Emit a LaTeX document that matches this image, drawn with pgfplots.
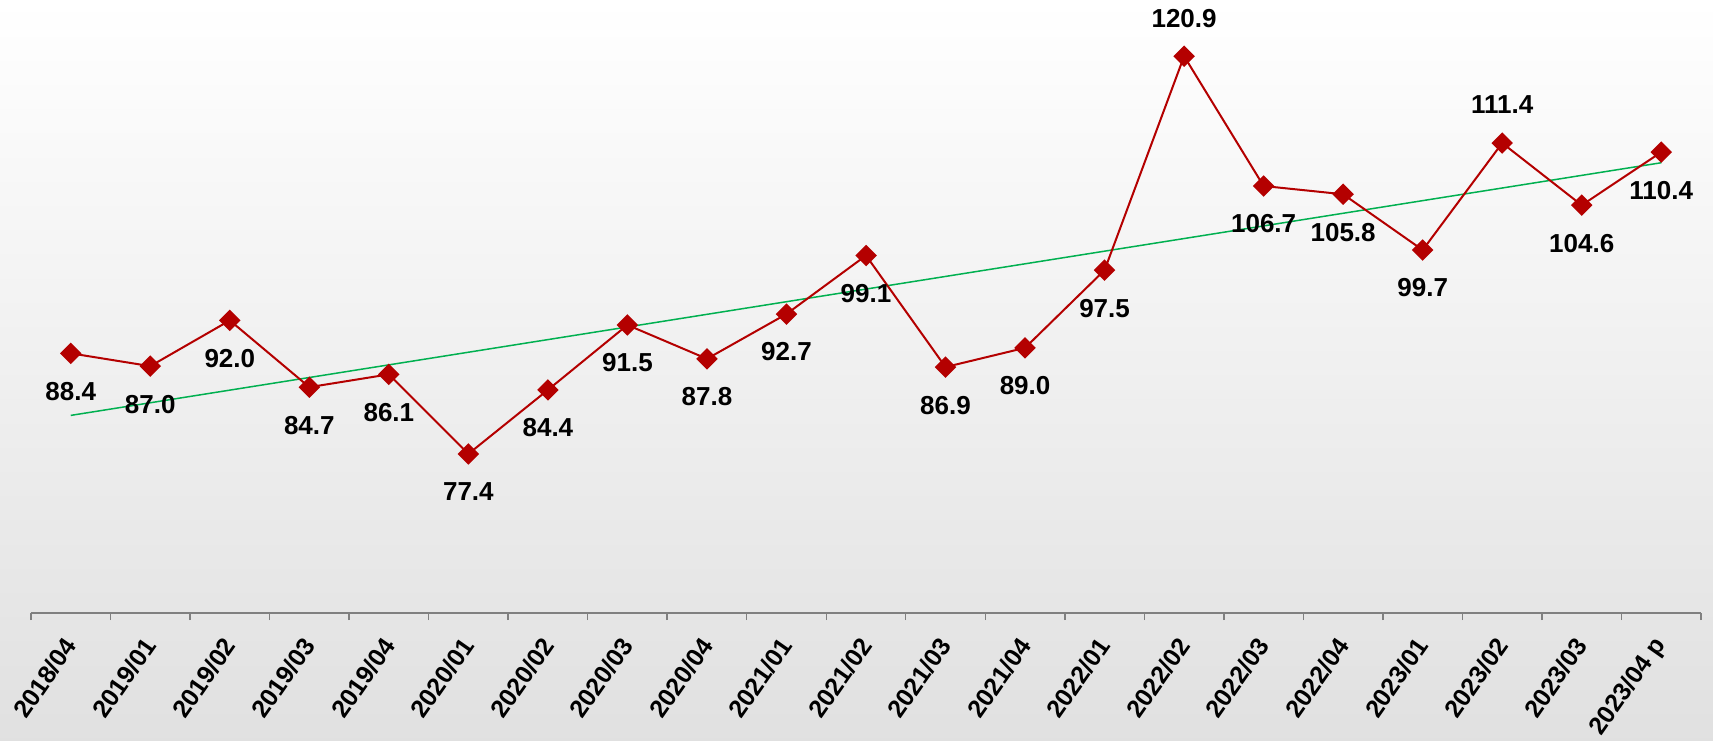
\documentclass[border=0pt]{standalone}
\usepackage{fontspec}
\setmainfont{Liberation Sans}
\usepackage{pgfplots}
\usepackage{pgfplotstable}
\pgfplotsset{compat=1.18}

\definecolor{linered}{RGB}{180,0,0}
\definecolor{trendgreen}{RGB}{0,176,80}
\definecolor{axisgray}{RGB}{128,128,128}

% x = category index, pos = label shift (pt)
\pgfplotstableread{
x y pos
0 88.4 -19
1 87.0 -19
2 92.0 -19
3 84.7 -19
4 86.1 -19
5 77.4 -19
6 84.4 -19
7 91.5 -19
8 87.8 -19
9 92.7 -19
10 99.1 -19
11 86.9 -19
12 89.0 -19
13 97.5 -19
14 120.9 19
15 106.7 -19
16 105.8 -19
17 99.7 -19
18 111.4 19
19 104.6 -19
20 110.4 -19
}\datatable

\begin{document}
\begin{tikzpicture}
\fill[top color=white, bottom color=black!12] (0,0) rectangle (856.5pt,370pt);
\begin{axis}[
  at={(15.5pt,63.5pt)}, anchor=south west,
  scale only axis,
  width=835pt, height=306.3pt,
  xmin=-0.5, xmax=20.5,
  ymin=60, ymax=127,
  axis x line*=bottom,
  axis y line=none,
  axis line style={axisgray, line width=0.7pt, -},
  xtick={0,...,20},
  major tick length=0pt,
  minor xtick={-0.5,0.5,...,20.5},
  minor tick length=3.5pt,
  tick align=outside,
  minor tick style={axisgray, line width=0.7pt},
  xticklabels={2018/04,2019/01,2019/02,2019/03,2019/04,2020/01,2020/02,2020/03,2020/04,2021/01,2021/02,2021/03,2021/04,2022/01,2022/02,2022/03,2022/04,2023/01,2023/02,2023/03,2023/04 p},
  xticklabel style={font=\fontsize{12.5}{14}\selectfont\bfseries, yshift=-11pt, xshift=2pt, rotate=55, anchor=east},
  clip=false,
]
\addplot[trendgreen, line width=0.75pt, no marks]
  table[x=x, y={create col/linear regression={y=y}}] {\datatable};
\addplot[linered, line width=1pt, mark=square*,
  mark options={rotate=45, fill=linered, solid}, mark size=3.3pt,
  visualization depends on={\thisrow{pos} \as \labpos},
  nodes near coords={\pgfmathprintnumber[fixed,fixed zerofill,precision=1,assume math mode=true]{\pgfplotspointmeta}},
  every node near coord/.append style={anchor=center, yshift=\labpos pt, text=black, font=\fontsize{13}{15}\selectfont\bfseries},
] table[x=x, y=y] {\datatable};
\end{axis}
\pgfresetboundingbox
\useasboundingbox (0,0) rectangle (856.5pt,370pt);
\end{tikzpicture}
\end{document}
